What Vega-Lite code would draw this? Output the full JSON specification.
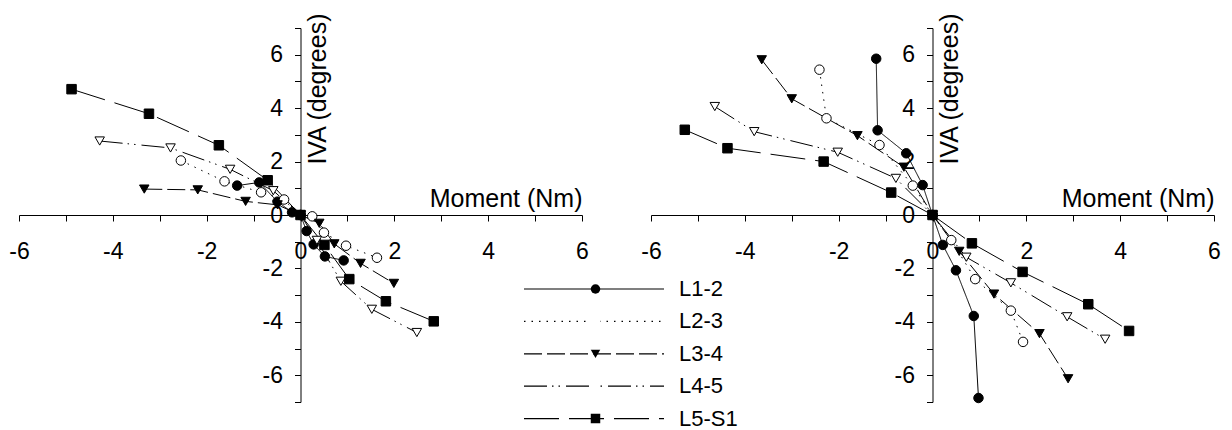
{
  "$schema": "https://vega.github.io/schema/vega-lite/v6.json",
  "padding": {"left": 8, "top": 12, "right": 5, "bottom": 0},
  "background": "white",
  "config": {
    "font": "Liberation Sans",
    "locale": {"number": {"decimal": ".", "thousands": ",", "grouping": [3], "currency": ["$", ""], "minus": "-"}},
    "view": {"stroke": null},
    "axis": {
      "grid": false,
      "domainColor": "black",
      "domainWidth": 1,
      "tickColor": "black",
      "tickWidth": 1,
      "tickSize": 6,
      "labelColor": "black",
      "labelFontSize": 23,
      "labelFlush": false,
      "labelOverlap": false,
      "titleColor": "black",
      "titleFontSize": 25,
      "titleFontWeight": "normal"
    },
    "axisX": {
      "values": [-6, -5, -4, -3, -2, -1, 0, 1, 2, 3, 4, 5, 6],
      "format": "d",
      "labelOpacity": {"condition": {"test": "datum.value % 2 !== 0", "value": 0}, "value": 1},
      "offset": -187,
      "labelPadding": 19,
      "titleX": 563,
      "titleY": -9,
      "titleAlign": "right",
      "titleBaseline": "alphabetic",
      "titleAngle": 0
    },
    "axisY": {
      "values": [-7, -6, -5, -4, -3, -2, -1, 0, 1, 2, 3, 4, 5, 6, 7],
      "format": "d",
      "labelOpacity": {"condition": {"test": "datum.value % 2 !== 0", "value": 0}, "value": 1},
      "offset": -281.5,
      "labelPadding": 12,
      "titleX": 25,
      "titleY": -15,
      "titleAlign": "right",
      "titleAngle": -90,
      "titleBaseline": "alphabetic"
    }
  },
  "datasets": {
    "pts": [
      {"panel": "a", "series": "L1-2", "moment": -1.35, "iva": 1.1},
      {"panel": "a", "series": "L1-2", "moment": -0.88, "iva": 1.22},
      {"panel": "a", "series": "L1-2", "moment": -0.49, "iva": 0.5},
      {"panel": "a", "series": "L1-2", "moment": -0.18, "iva": 0.1},
      {"panel": "a", "series": "L1-2", "moment": 0, "iva": 0},
      {"panel": "a", "series": "L1-2", "moment": 0.13, "iva": -0.6},
      {"panel": "a", "series": "L1-2", "moment": 0.28, "iva": -1.1},
      {"panel": "a", "series": "L1-2", "moment": 0.52, "iva": -1.55},
      {"panel": "a", "series": "L1-2", "moment": 0.92, "iva": -1.7},
      {"panel": "a", "series": "L2-3", "moment": -2.55, "iva": 2.04},
      {"panel": "a", "series": "L2-3", "moment": -1.62, "iva": 1.26},
      {"panel": "a", "series": "L2-3", "moment": -0.84, "iva": 0.85},
      {"panel": "a", "series": "L2-3", "moment": -0.35, "iva": 0.58},
      {"panel": "a", "series": "L2-3", "moment": 0, "iva": 0},
      {"panel": "a", "series": "L2-3", "moment": 0.25, "iva": -0.05},
      {"panel": "a", "series": "L2-3", "moment": 0.5, "iva": -0.66},
      {"panel": "a", "series": "L2-3", "moment": 0.97, "iva": -1.15},
      {"panel": "a", "series": "L2-3", "moment": 1.63, "iva": -1.6},
      {"panel": "a", "series": "L3-4", "moment": -3.33, "iva": 0.97},
      {"panel": "a", "series": "L3-4", "moment": -2.19, "iva": 0.94},
      {"panel": "a", "series": "L3-4", "moment": -1.17, "iva": 0.51},
      {"panel": "a", "series": "L3-4", "moment": -0.49, "iva": 0.38},
      {"panel": "a", "series": "L3-4", "moment": 0, "iva": 0},
      {"panel": "a", "series": "L3-4", "moment": 0.4, "iva": -0.31},
      {"panel": "a", "series": "L3-4", "moment": 0.72, "iva": -1.08},
      {"panel": "a", "series": "L3-4", "moment": 1.28, "iva": -1.81},
      {"panel": "a", "series": "L3-4", "moment": 1.99, "iva": -2.56},
      {"panel": "a", "series": "L4-5", "moment": -4.28, "iva": 2.77},
      {"panel": "a", "series": "L4-5", "moment": -2.77, "iva": 2.51},
      {"panel": "a", "series": "L4-5", "moment": -1.5, "iva": 1.71},
      {"panel": "a", "series": "L4-5", "moment": -0.58, "iva": 0.91},
      {"panel": "a", "series": "L4-5", "moment": 0, "iva": 0},
      {"panel": "a", "series": "L4-5", "moment": 0.35, "iva": -0.95},
      {"panel": "a", "series": "L4-5", "moment": 0.86, "iva": -2.48},
      {"panel": "a", "series": "L4-5", "moment": 1.52, "iva": -3.53},
      {"panel": "a", "series": "L4-5", "moment": 2.48, "iva": -4.4},
      {"panel": "a", "series": "L5-S1", "moment": -4.88, "iva": 4.71},
      {"panel": "a", "series": "L5-S1", "moment": -3.23, "iva": 3.79},
      {"panel": "a", "series": "L5-S1", "moment": -1.74, "iva": 2.61},
      {"panel": "a", "series": "L5-S1", "moment": -0.7, "iva": 1.3},
      {"panel": "a", "series": "L5-S1", "moment": 0, "iva": 0},
      {"panel": "a", "series": "L5-S1", "moment": 0.51, "iva": -1.12},
      {"panel": "a", "series": "L5-S1", "moment": 1.04, "iva": -2.4},
      {"panel": "a", "series": "L5-S1", "moment": 1.82, "iva": -3.23},
      {"panel": "a", "series": "L5-S1", "moment": 2.84, "iva": -3.98},
      {"panel": "b", "series": "L1-2", "moment": -1.2, "iva": 5.85},
      {"panel": "b", "series": "L1-2", "moment": -1.17, "iva": 3.17},
      {"panel": "b", "series": "L1-2", "moment": -0.56, "iva": 2.31},
      {"panel": "b", "series": "L1-2", "moment": -0.21, "iva": 1.12},
      {"panel": "b", "series": "L1-2", "moment": 0, "iva": 0},
      {"panel": "b", "series": "L1-2", "moment": 0.22, "iva": -1.12},
      {"panel": "b", "series": "L1-2", "moment": 0.5, "iva": -2.07},
      {"panel": "b", "series": "L1-2", "moment": 0.88, "iva": -3.78},
      {"panel": "b", "series": "L1-2", "moment": 0.98, "iva": -6.85},
      {"panel": "b", "series": "L2-3", "moment": -2.41, "iva": 5.44},
      {"panel": "b", "series": "L2-3", "moment": -2.26, "iva": 3.62},
      {"panel": "b", "series": "L2-3", "moment": -1.13, "iva": 2.62},
      {"panel": "b", "series": "L2-3", "moment": -0.42, "iva": 1.1},
      {"panel": "b", "series": "L2-3", "moment": 0, "iva": 0},
      {"panel": "b", "series": "L2-3", "moment": 0.4, "iva": -0.94},
      {"panel": "b", "series": "L2-3", "moment": 0.91, "iva": -2.4},
      {"panel": "b", "series": "L2-3", "moment": 1.67, "iva": -3.58},
      {"panel": "b", "series": "L2-3", "moment": 1.93, "iva": -4.75},
      {"panel": "b", "series": "L3-4", "moment": -3.64, "iva": 5.81},
      {"panel": "b", "series": "L3-4", "moment": -3.0, "iva": 4.35},
      {"panel": "b", "series": "L3-4", "moment": -1.6, "iva": 2.97},
      {"panel": "b", "series": "L3-4", "moment": -0.61, "iva": 1.79},
      {"panel": "b", "series": "L3-4", "moment": 0, "iva": 0},
      {"panel": "b", "series": "L3-4", "moment": 0.57, "iva": -1.36},
      {"panel": "b", "series": "L3-4", "moment": 1.31, "iva": -2.96},
      {"panel": "b", "series": "L3-4", "moment": 2.28, "iva": -4.44},
      {"panel": "b", "series": "L3-4", "moment": 2.89, "iva": -6.13},
      {"panel": "b", "series": "L4-5", "moment": -4.64, "iva": 4.06},
      {"panel": "b", "series": "L4-5", "moment": -3.8, "iva": 3.12},
      {"panel": "b", "series": "L4-5", "moment": -2.02, "iva": 2.35},
      {"panel": "b", "series": "L4-5", "moment": -0.78, "iva": 1.37},
      {"panel": "b", "series": "L4-5", "moment": 0, "iva": 0},
      {"panel": "b", "series": "L4-5", "moment": 0.72, "iva": -1.58},
      {"panel": "b", "series": "L4-5", "moment": 1.67, "iva": -2.54},
      {"panel": "b", "series": "L4-5", "moment": 2.87, "iva": -3.81},
      {"panel": "b", "series": "L4-5", "moment": 3.68, "iva": -4.65},
      {"panel": "b", "series": "L5-S1", "moment": -5.28, "iva": 3.19},
      {"panel": "b", "series": "L5-S1", "moment": -4.37, "iva": 2.5},
      {"panel": "b", "series": "L5-S1", "moment": -2.32, "iva": 2.0},
      {"panel": "b", "series": "L5-S1", "moment": -0.88, "iva": 0.84},
      {"panel": "b", "series": "L5-S1", "moment": 0, "iva": 0},
      {"panel": "b", "series": "L5-S1", "moment": 0.84, "iva": -1.06},
      {"panel": "b", "series": "L5-S1", "moment": 1.92, "iva": -2.13},
      {"panel": "b", "series": "L5-S1", "moment": 3.32, "iva": -3.34},
      {"panel": "b", "series": "L5-S1", "moment": 4.19, "iva": -4.34}
    ]
  },
  "data": {"name": "pts"},
  "facet": {"column": {"field": "panel", "type": "nominal", "header": null}},
  "spacing": 51,
  "resolve": {"axis": {"x": "independent", "y": "independent"}},
  "spec": {
    "width": 563,
    "height": 374,
    "layer": [
      {
        "mark": {"type": "line", "stroke": "black", "strokeWidth": 1},
        "encoding": {
          "x": {
            "field": "moment", "type": "quantitative",
            "scale": {"domain": [-6, 6], "nice": false, "zero": false},
            "axis": {"title": "Moment (Nm)"}
          },
          "y": {
            "field": "iva", "type": "quantitative",
            "scale": {"domain": [-7, 7], "nice": false, "zero": false},
            "axis": {"title": "IVA (degrees)", "labels": true, "labelAlign": "right", "labelBaseline": "middle", "labelAngle": 0}
          },
          "strokeDash": {
            "field": "series", "type": "nominal",
            "scale": {"range": [[1, 0], [1.5, 6], [18, 5], [23, 5, 1.5, 5, 1.5, 6], [35, 10]]},
            "legend": {
              "orient": "none", "legendX": 504, "legendY": 246, "title": null,
              "symbolType": "stroke", "symbolSize": 19600, "symbolStrokeColor": "black",
              "symbolStrokeWidth": 1.2, "clipHeight": 30, "rowPadding": 2.4,
              "labelFontSize": 22, "labelColor": "black", "labelOffset": 14,
              "labelLimit": 200, "padding": 0, "zindex": 0
            }
          }
        }
      },
      {
        "mark": {"type": "point", "stroke": "black", "strokeWidth": 1, "size": 90, "opacity": 1},
        "encoding": {
          "x": {"field": "moment", "type": "quantitative"},
          "y": {"field": "iva", "type": "quantitative"},
          "shape": {
            "field": "series", "type": "nominal",
            "scale": {"domain": ["L1-2", "L2-3", "L3-4", "L4-5", "L5-S1"], "range": ["circle", "circle", "triangle-down", "triangle-down", "square"]},
            "legend": {
              "orient": "none", "legendX": 571, "legendY": 246, "title": null,
              "symbolSize": 90, "symbolStrokeColor": "black", "symbolStrokeWidth": 1,
              "clipHeight": 30, "rowPadding": 2.4, "labelExpr": "''", "padding": 0, "zindex": 1
            }
          },
          "fill": {
            "field": "series", "type": "nominal",
            "scale": {"domain": ["L1-2", "L2-3", "L3-4", "L4-5", "L5-S1"], "range": ["black", "white", "black", "white", "black"]},
            "legend": {
              "orient": "none", "legendX": 571, "legendY": 246, "title": null,
              "symbolSize": 90, "symbolStrokeColor": "black", "symbolStrokeWidth": 1,
              "clipHeight": 30, "rowPadding": 2.4, "labelExpr": "''", "padding": 0, "zindex": 1
            }
          }
        }
      }
    ]
  }
}
